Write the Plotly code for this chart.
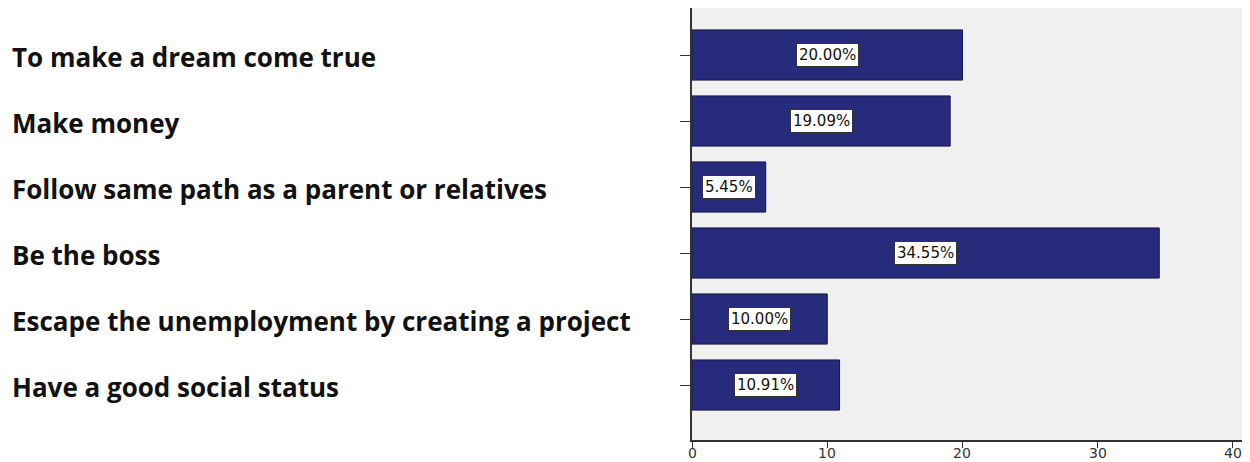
import plotly.graph_objects as go

categories = [
    "To make a dream come true",
    "Make money",
    "Follow same path as a parent or relatives",
    "Be the boss",
    "Escape the unemployment by creating a project",
    "Have a good social status",
]
values = [20.00, 19.09, 5.45, 34.55, 10.00, 10.91]
value_labels = ["20.00%", "19.09%", "5.45%", "34.55%", "10.00%", "10.91%"]
x_ticks = [0, 10, 20, 30, 40]

fig = go.Figure()
fig.add_trace(go.Bar(
    y=list(range(len(categories))),
    x=values,
    orientation="h",
    width=0.76,
    marker=dict(color="#272b7c", line=dict(color="#15173f", width=1)),
    hoverinfo="skip",
))

for i, (v, lab) in enumerate(zip(values, value_labels)):
    fig.add_annotation(
        x=v / 2, y=i, xref="x", yref="y", text=lab, showarrow=False,
        font=dict(family="DejaVu Sans", size=15, color="#111111"),
        bgcolor="white", bordercolor="#333333", borderwidth=1, borderpad=2,
    )

for i, c in enumerate(categories):
    fig.add_annotation(
        x=0, xref="paper", xanchor="left", xshift=-682, yshift=-2,
        y=i, yref="y", text="<b>" + c + "</b>", showarrow=False,
        font=dict(family="Open Sans", size=26, color="#111111"),
    )

# x tick labels drawn just under the axis (tight bottom margin as in the reference)
for t in x_ticks:
    fig.add_annotation(
        x=t, xref="x", y=0, yref="paper", yanchor="top", yshift=-4,
        text=str(t), showarrow=False, borderpad=0,
        font=dict(family="DejaVu Sans", size=14, color="#333333"),
    )

fig.update_layout(
    width=1242, height=454,
    margin=dict(l=684, r=0, t=0, b=22),
    paper_bgcolor="white",
    plot_bgcolor="#f0f0f0",
    showlegend=False,
    xaxis=dict(
        range=[0, 41.26], tickvals=x_ticks, ticks="outside", ticklen=6,
        showticklabels=False,
        tickcolor="#333333", showgrid=False, zeroline=False,
        showline=True, linecolor="#333333", linewidth=2,
        fixedrange=True, automargin=False,
    ),
    yaxis=dict(
        range=[5.833, -0.712], tickvals=list(range(6)), ticktext=[""] * 6,
        ticks="outside", ticklen=10, tickcolor="#333333",
        showgrid=False, zeroline=False, showline=True, linecolor="#333333",
        linewidth=2, fixedrange=True, automargin=False,
    ),
)

fig.write_html("out.html")
